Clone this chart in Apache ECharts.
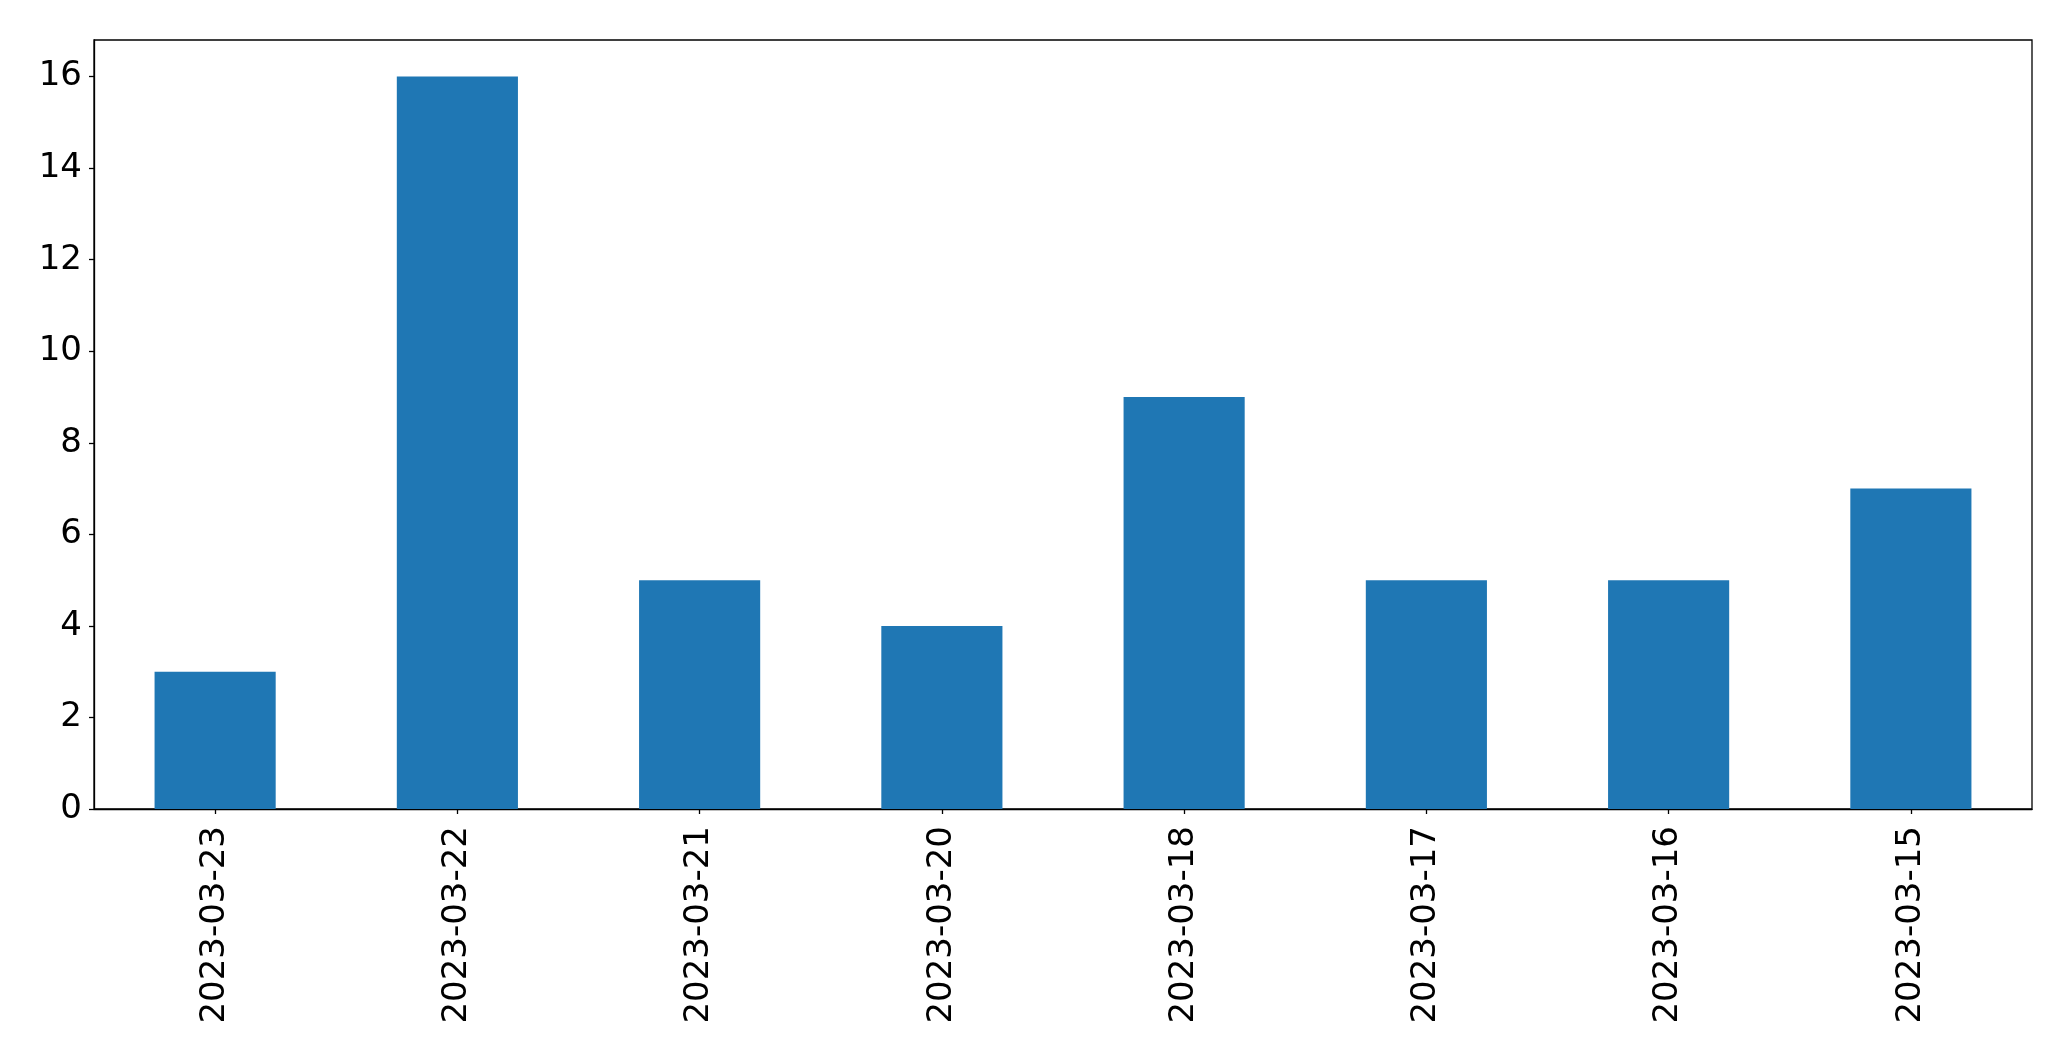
<!DOCTYPE html>
<html>
<head>
<meta charset="utf-8">
<script src="https://cdn.jsdelivr.net/npm/echarts@6/dist/echarts.min.js"></script>
<style>
html,body{margin:0;padding:0;background:#fff;}
#chart{width:2071px;height:1061px;}
</style>
</head>
<body>
<div id="chart"></div>
<script>
const categories = ['2023-03-23','2023-03-22','2023-03-21','2023-03-20','2023-03-18','2023-03-17','2023-03-16','2023-03-15'];
const values = [3, 16, 5, 4, 9, 5, 5, 7];
const yTicks = [0, 2, 4, 6, 8, 10, 12, 14, 16];

const chart = echarts.init(document.getElementById('chart'), null, {renderer: 'canvas'});
const fontFamily = 'DejaVu Sans';
chart.setOption({
  animation: false,
  backgroundColor: '#ffffff',
  grid: {
    left: 94, right: 39, top: 40, bottom: 252,
    show: true, borderColor: '#000', borderWidth: 1.3, backgroundColor: 'transparent'
  },
  xAxis: {
    type: 'category',
    data: categories,
    boundaryGap: true,
    axisLine: {show: true, lineStyle: {color: '#000', width: 1.3}},
    axisTick: {show: true, alignWithLabel: true, length: 5, lineStyle: {color: '#000', width: 1.3}},
    axisLabel: {rotate: 90, margin: 17, fontSize: 34, color: '#000', fontFamily: fontFamily, interval: 0},
    splitLine: {show: false}
  },
  yAxis: {
    type: 'value',
    min: 0, max: 16.8, interval: 2,
    axisLine: {show: true, lineStyle: {color: '#000', width: 1.3}},
    axisTick: {show: true, length: 5, lineStyle: {color: '#000', width: 1.3}, customValues: yTicks},
    axisLabel: {margin: 12, fontSize: 34, color: '#000', fontFamily: fontFamily, customValues: yTicks},
    splitLine: {show: false}
  },
  series: [{
    type: 'bar',
    data: values,
    barWidth: '50%',
    itemStyle: {color: '#1f77b4'}
  }]
});
</script>
</body>
</html>
